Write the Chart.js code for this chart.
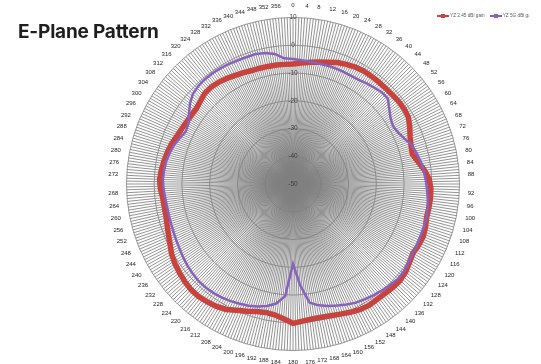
<!DOCTYPE html>
<html>
<head>
<meta charset="utf-8">
<script src="https://cdn.jsdelivr.net/npm/chart.js@4.4.1/dist/chart.umd.min.js"></script>
<style>
  html, body { margin: 0; padding: 0; background: #fff; overflow: hidden; }
  #wrap { position: relative; width: 541px; height: 364px; overflow: hidden; }
  #title { position: absolute; left: 18px; top: 20px; font: 700 19px Inter, "Noto Sans", sans-serif; letter-spacing: -0.2px; color: #1e1e1e; }
  #legend { position: absolute; left: 437px; top: 13px; width: 92px; overflow: hidden; white-space: nowrap;
            font: 4.7px "Liberation Sans", Arial, sans-serif; line-height: 6px; color: #595959; }
  #legend span.item { display: inline-block; margin-right: 5px; }
  #legend i { display: inline-block; position: relative; width: 12px; height: 2px; vertical-align: middle; margin-right: 1px; }
  #legend i b { position: absolute; left: 4px; top: -1px; width: 4px; height: 4px; }
</style>
</head>
<body>
<div id="wrap">
  <canvas id="pattern" width="541" height="366"></canvas>
  <div id="title">E-Plane Pattern</div>
  <div id="legend"></div>
</div>
<script>
// series names as in the legend
const seriesNames = ['YZ 2.45 dBi gain', 'YZ 5G dBi gain'];

// measured angles (deg), one sample every 4 degrees
const sampleAngles = [
  0, 4, 8, 12, 16, 20, 24, 28, 32, 36, 40, 44, 48, 52, 56, 60, 64, 68, 72, 76,
  80, 84, 88, 92, 96, 100, 104, 108, 112, 116, 120, 124, 128, 132, 136, 140, 144, 148, 152, 156,
  160, 164, 168, 172, 176, 180, 184, 188, 192, 196, 200, 204, 208, 212, 216, 220, 224, 228, 232, 236,
  240, 244, 248, 252, 256, 260, 264, 268, 272, 276, 280, 284, 288, 292, 296, 300, 304, 308, 312, 316,
  320, 324, 328, 332, 336, 340, 344, 348, 352, 356
];

// gain in dB
const gain24 = [
  -6.8, -6.3, -5.7, -5.1, -4.4, -3.4, -2.8, -2.3, -2.0, -2.0, -2.0, -2.0, -1.9, -1.7, -1.7, -2.0, -3.2, -4.5, -5.3, -5.7,
  -4.2, -2.4, -0.9, -0.3, -0.2, -0.3, -0.4, 0.2, 0.6, 0.3, -0.1, 0.6, 1.5, 1.9, 1.8, 1.5, 1.4, 1.6, 1.3, 0.6,
  -0.1, -0.6, -0.9, -0.9, -0.5, 0.2, -1.3, -2.4, -2.7, -2.2, -1.2, -0.2, 1.2, 2.0, 2.5, 2.9, 2.9, 2.5, 1.9, 1.3,
  0.5, -0.7, -1.6, -2.3, -2.8, -2.9, -2.8, -2.2, -1.9, -2.3, -2.8, -3.3, -3.9, -4.7, -5.2, -5.6, -5.8, -5.8, -5.2, -4.4,
  -4.3, -4.6, -5.1, -5.7, -6.1, -6.5, -6.6, -6.7, -6.7, -6.8
];
const gain5 = [
  -5.0, -5.3, -5.5, -5.6, -5.6, -5.6, -5.7, -5.8, -5.7, -5.1, -4.6, -4.0, -4.0, -6.0, -7.6, -8.4, -7.8, -6.6, -5.0, -4.1,
  -3.3, -2.7, -2.2, -1.7, -1.2, -0.7, -0.4, -0.4, -0.4, -0.3, -0.1, 0.3, 0.8, 1.0, 0.5, 0.0, -0.5, -1.1, -1.6, -2.5,
  -3.4, -4.3, -5.3, -6.8, -13.5, -21.2, -9.5, -6.5, -5.1, -4.1, -3.3, -2.8, -2.2, -1.7, -1.4, -1.2, -1.2, -1.5, -1.9, -2.4,
  -2.9, -3.3, -3.6, -3.8, -3.9, -3.9, -3.7, -3.3, -3.1, -3.3, -3.6, -4.2, -4.9, -6.0, -7.0, -6.5, -4.8, -2.9, -1.5, -0.9,
  -0.7, -0.7, -0.8, -1.0, -1.2, -1.3, -1.3, -1.8, -2.7, -4.6
];

// radial axis: dB ticks
const radialTicks = [-50, -40, -30, -20, -10, 0, 10];

// one spoke per degree, labelled every 4th
const degreeLabels = Array.from({ length: 360 }, (_, d) => String(d));

// put the 4-degree samples on their spokes, gaps are spanned by the line
function onSpokes(values) {
  const out = new Array(degreeLabels.length).fill(null);
  sampleAngles.forEach((a, i) => { out[a] = values[i]; });
  return out;
}

const RED = '#c8423e';
const PURPLE = '#8662be';
const GRID = '#808080';
const FONT = 'Liberation Sans, Arial, sans-serif';

const chart = new Chart(document.getElementById('pattern'), {
  type: 'radar',
  data: {
    labels: degreeLabels,
    datasets: [
      {
        label: seriesNames[0],
        data: onSpokes(gain24),
        borderColor: RED,
        backgroundColor: RED,
        borderWidth: 5.5,
        pointRadius: 0,
        fill: false,
        spanGaps: true,
        order: 1
      },
      {
        label: seriesNames[1],
        data: onSpokes(gain5),
        borderColor: PURPLE,
        backgroundColor: PURPLE,
        borderWidth: 2.5,
        pointRadius: 0,
        fill: false,
        spanGaps: true,
        order: 0
      }
    ]
  },
  options: {
    responsive: false,
    animation: false,
    layout: { padding: { left: 45, right: 0, top: 2, bottom: 0 } },
    plugins: {
      legend: { display: false },
      tooltip: { enabled: false }
    },
    scales: {
      r: {
        min: radialTicks[0],
        max: radialTicks[radialTicks.length - 1],
        ticks: {
          stepSize: 10,
          showLabelBackdrop: false,
          color: '#404040',
          font: { size: 6.5, family: FONT }
        },
        grid: { circular: true, color: GRID, lineWidth: 0.8 },
        angleLines: { color: GRID, lineWidth: 0.85 },
        pointLabels: {
          padding: 3,
          color: '#262626',
          font: { size: 6, family: FONT },
          callback: (label, i) => (i % 4 === 0 ? label : '')
        }
      }
    }
  }
});

// legend in the top right corner, built from the datasets
const legendBox = document.getElementById('legend');
chart.data.datasets.forEach(ds => {
  const item = document.createElement('span');
  item.className = 'item';
  item.innerHTML = '<i style="background:' + ds.borderColor + '"><b style="background:' + ds.borderColor + '"></b></i>' + ds.label;
  legendBox.appendChild(item);
});
</script>
</body>
</html>
